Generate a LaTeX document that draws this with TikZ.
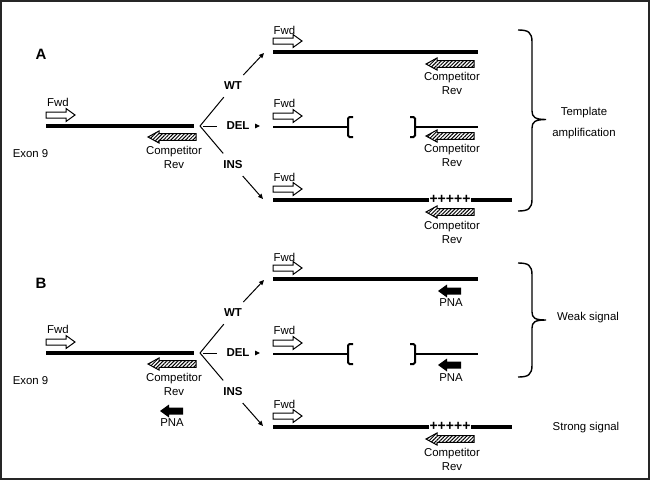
\documentclass[tikz,border=0pt]{standalone}
\usepackage{fontspec}
\setmainfont{Liberation Sans}
\usetikzlibrary{arrows.meta,patterns.meta}
\tikzset{
  lbl/.style={font=\fontsize{11.4}{13}\selectfont, inner sep=0pt},
  bold/.style={font=\bfseries\fontsize{11.5}{13}\selectfont, inner sep=0pt},
  panellbl/.style={font=\bfseries\fontsize{15}{15}\selectfont, inner sep=0pt},
  two/.style={align=center, font=\fontsize{11.4}{14}\selectfont, inner sep=0pt},
  twowide/.style={align=center, font=\fontsize{11.4}{21}\selectfont, inner sep=0pt},
  plus/.style={font=\bfseries\fontsize{14}{14}\selectfont, inner sep=0pt},
  dna/.style={line width=3.2pt},
  deldna/.style={line width=2.3pt},
  fork/.style={line width=1pt},
  forkarr/.style={line width=1pt, -{Triangle[length=5pt,width=4.5pt]}},
  brk/.style={line width=2pt, rounded corners=1.5pt},
  bracestyle/.style={line width=1.4pt},
  primer/.style={draw=black, line width=1pt},
  fwdarr/.pic={\draw[primer, fill=white] (0,-3) -- (20,-3) -- (20,-6.5) -- (29,0) -- (20,6.5) -- (20,3) -- (0,3) -- cycle;},
  comparr/.pic={\draw[primer, pattern={Lines[angle=45,distance=2.6pt,line width=1pt]}] (0,0) -- (11,-6) -- (11,-3.3) -- (48,-3.3) -- (48,3.3) -- (11,3.3) -- (11,6) -- cycle;},
  pnaarr/.pic={\fill (0,0) -- (9,-6.5) -- (9,-3.5) -- (23,-3.5) -- (23,3.5) -- (9,3.5) -- (9,6.5) -- cycle;},
}
\newcommand\panelbody[1]{%
  % left template
  \node[lbl] (fl#1) at (58,102) {Fwd};
  \pic at (46,115) {fwdarr};
  \coordinate (ms#1) at (46,126);
  \coordinate (me#1) at (194,126);
  \draw[dna] (ms#1) -- (me#1);
  \pic at (148,137) {comparr};
  \node[two] (cl#1) at (174,157) {Competitor\\Rev};
  \node[lbl] (ex#1) at (30.5,154) {Exon 9};
  % fork
  \coordinate (fk#1) at (200,126);
  \node[bold] (wt#1) at (233,86) {WT};
  \node[bold] (del#1) at (238,126) {DEL};
  \node[bold] (ins#1) at (233,165) {INS};
  \draw[fork, shorten >=9pt] (fk#1) -- (wt#1);
  \draw[fork, shorten >=9.5pt, shorten <=3pt] (fk#1) -- (del#1);
  \draw[fork, shorten >=9.6pt] (fk#1) -- (ins#1);
  \coordinate (wte#1) at (264,53);
  \coordinate (dele#1) at (260,126);
  \coordinate (inse#1) at (263,199);
  \draw[forkarr, shorten <=9.4pt] (wt#1) -- (wte#1);
  \draw[forkarr, shorten <=5.5pt] (del#1) -- (dele#1);
  \draw[forkarr, shorten <=9pt] (ins#1) -- (inse#1);
  % WT row
  \node[lbl] (fwa#1) at (284.5,30) {Fwd};
  \pic at (273,41) {fwdarr};
  \coordinate (ws#1) at (273,52);
  \coordinate (we#1) at (478,52);
  \draw[dna] (ws#1) -- (we#1);
  % DEL row
  \node[lbl] (fwb#1) at (284.5,103) {Fwd};
  \pic at (273,116) {fwdarr};
  \coordinate (ds#1) at (273,127);
  \coordinate (dl#1) at (348,127);
  \coordinate (dr#1) at (415,127);
  \coordinate (de#1) at (478,127);
  \draw[deldna] (ds#1) -- (dl#1);
  \draw[deldna] (dr#1) -- (de#1);
  \draw[brk] ([xshift=5pt,yshift=10pt]dl#1) -- ([yshift=10pt]dl#1) -- ([yshift=-10pt]dl#1) -- ([xshift=5pt,yshift=-10pt]dl#1);
  \draw[brk] ([xshift=-5pt,yshift=10pt]dr#1) -- ([yshift=10pt]dr#1) -- ([yshift=-10pt]dr#1) -- ([xshift=-5pt,yshift=-10pt]dr#1);
  % INS row
  \node[lbl] (fwc#1) at (284.5,177) {Fwd};
  \pic at (273,189) {fwdarr};
  \coordinate (is#1) at (273,200);
  \coordinate (ie#1) at (512,200);
  \node[plus] (pl#1) at (450,199) {+++++};
  \draw[dna] (is#1) -- (is#1 -| pl#1.west);
  \draw[dna] (ie#1 -| pl#1.east) -- (ie#1);
  \pic at (426,212) {comparr};
  \node[two] (ci#1) at (452,232) {Competitor\\Rev};
}
\begin{document}
\begin{tikzpicture}[x=1pt,y=-1pt]
\useasboundingbox (0,0) rectangle (650,480);
\draw[line width=2.4pt, draw=black!85] (1.2,1.2) rectangle (648.8,478.8);

% ---------- Panel A ----------
\begin{scope}
  \panelbody{A}
  \node[panellbl] (lblA) at (41,54) {A};
  \pic at (426,64) {comparr};
  \node[two] (cwA) at (452,83) {Competitor\\Rev};
  \pic at (426,136) {comparr};
  \node[two] (cdA) at (452,155) {Competitor\\Rev};
\end{scope}
\draw[bracestyle] (518,30) .. controls (528,30) and (532,32) .. (532,42) -- (532,111)
  .. controls (532,117) and (535,119.5) .. (546,119.5)
  .. controls (535,119.5) and (532,122) .. (532,128) -- (532,199)
  .. controls (532,209) and (528,211) .. (518,211);
\node[twowide] (tmpl) at (584,123.5) {Template\\amplification};

% ---------- Panel B ----------
\begin{scope}[yshift=-227pt]
  \panelbody{B}
  \node[panellbl] (lblB) at (41,56) {B};
  \pic at (160,184) {pnaarr};
  \node[lbl] (pnl) at (172,196) {PNA};
  \pic at (438,64) {pnaarr};
  \node[lbl] (pnw) at (451,76) {PNA};
  \pic at (438,138) {pnaarr};
  \node[lbl] (pnd) at (451,151) {PNA};
\end{scope}
\draw[bracestyle] (518,263) .. controls (528,263) and (532,265) .. (532,275) -- (532,312)
  .. controls (532,318) and (535,320) .. (546,320)
  .. controls (535,320) and (532,322) .. (532,328) -- (532,365)
  .. controls (532,375) and (528,377) .. (518,377);
\node[lbl] (weak) at (588,318) {Weak signal};
\node[lbl] (strong) at (586,428) {Strong signal};
\end{tikzpicture}
\end{document}
